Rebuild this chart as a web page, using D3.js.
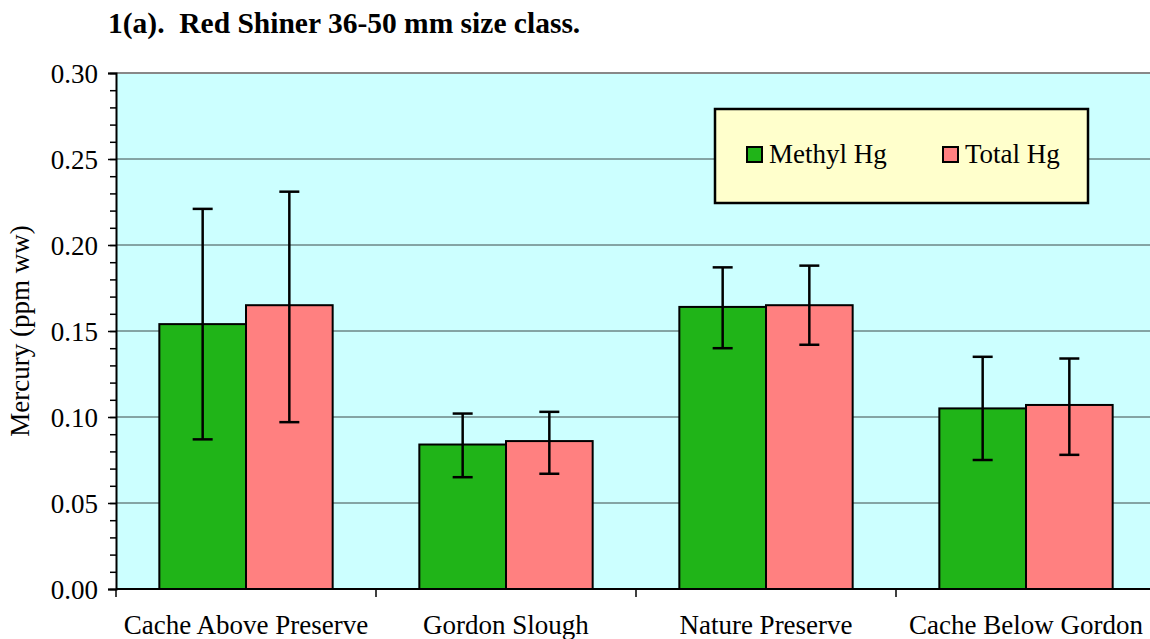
<html>
    <head>
        <meta charset="utf-8">
        <title>Red Shiner 36-50 mm</title>
        <script type="text/javascript" src="https://cdn.jsdelivr.net/npm/d3@7"></script>
        <style>
            body { margin: 0; background: #fff; }
            text { font-family: "Liberation Serif", "Times New Roman", serif; fill: #000; }
        </style>
    </head>
    <body>
        <script type="text/javascript">
            // data
            var sites = ["Cache Above Preserve", "Gordon Slough", "Nature Preserve", "Cache Below Gordon"];
            var series = ["Methyl Hg", "Total Hg"];
            var methylHg = [0.154, 0.084, 0.164, 0.105];
            var methylLow = [0.087, 0.065, 0.140, 0.075];
            var methylHigh = [0.221, 0.102, 0.187, 0.135];
            var totalHg = [0.165, 0.086, 0.165, 0.107];
            var totalLow = [0.097, 0.067, 0.142, 0.078];
            var totalHigh = [0.231, 0.103, 0.188, 0.134];
            var yTicks = [0, 0.05, 0.10, 0.15, 0.20, 0.25, 0.30];

            var colors = { "Methyl Hg": "#20b418", "Total Hg": "#ff8080" };

            var w = 1150, h = 639;
            var mLeft = 116, mRight = 1156, mTop = 73, mBottom = 589;

            var svg = d3.select("body").append("svg")
                        .attr("width", w)
                        .attr("height", h);

            // rows for drawing
            var rows = [];
            sites.forEach(function(s, i) {
                rows.push({ site: s, key: "Methyl Hg", v: methylHg[i], lo: methylLow[i], hi: methylHigh[i] });
                rows.push({ site: s, key: "Total Hg", v: totalHg[i], lo: totalLow[i], hi: totalHigh[i] });
            });

            var x0 = d3.scaleBand().domain(sites).range([mLeft, mRight]).padding(0);
            var x1 = d3.scaleBand().domain(series).range([0, x0.bandwidth()]).paddingInner(0).paddingOuter(0.5);
            var y = d3.scaleLinear().domain([0, 0.30]).range([mBottom, mTop]);

            // plot background
            svg.append("rect")
               .attr("x", mLeft).attr("y", mTop)
               .attr("width", mRight - mLeft).attr("height", mBottom - mTop)
               .attr("fill", "#ccffff");

            // gridlines
            svg.append("g").selectAll("line")
               .data(yTicks.slice(1, -1))
               .enter().append("line")
               .attr("x1", mLeft).attr("x2", mRight)
               .attr("y1", function(d) { return y(d); })
               .attr("y2", function(d) { return y(d); })
               .attr("stroke", "#3c4a4a").attr("stroke-width", 1);

            // top border
            svg.append("line")
               .attr("x1", mLeft).attr("x2", mRight)
               .attr("y1", mTop).attr("y2", mTop)
               .attr("stroke", "#888").attr("stroke-width", 2);

            // bars
            svg.append("g").selectAll("rect")
               .data(rows)
               .enter().append("rect")
               .attr("x", function(d) { return x0(d.site) + x1(d.key); })
               .attr("y", function(d) { return y(d.v); })
               .attr("width", x1.bandwidth())
               .attr("height", function(d) { return y(0) - y(d.v); })
               .attr("fill", function(d) { return colors[d.key]; })
               .attr("stroke", "#000").attr("stroke-width", 2);

            // error bars
            var err = svg.append("g").selectAll("g")
                         .data(rows)
                         .enter().append("g")
                         .attr("transform", function(d) {
                             return "translate(" + (x0(d.site) + x1(d.key) + x1.bandwidth() / 2) + ",0)";
                         })
                         .attr("stroke", "#000").attr("stroke-width", 2.5);
            err.append("line")
               .attr("y1", function(d) { return y(d.lo); })
               .attr("y2", function(d) { return y(d.hi); });
            err.append("line")
               .attr("x1", -10).attr("x2", 10)
               .attr("y1", function(d) { return y(d.hi); })
               .attr("y2", function(d) { return y(d.hi); });
            err.append("line")
               .attr("x1", -10).attr("x2", 10)
               .attr("y1", function(d) { return y(d.lo); })
               .attr("y2", function(d) { return y(d.lo); });

            // y axis with minor ticks
            var yMinor = d3.axisLeft(y).tickValues(d3.range(0, 0.3001, 0.01)).tickSize(6).tickFormat("");
            svg.append("g").attr("transform", "translate(" + mLeft + ",0)").call(yMinor)
               .call(function(g) { g.select(".domain").remove(); })
               .selectAll("line").attr("stroke", "#000").attr("stroke-width", 1.5);

            var yAxis = d3.axisLeft(y).tickValues(yTicks).tickSize(8).tickPadding(10).tickFormat(d3.format(".2f"));
            var ya = svg.append("g").attr("transform", "translate(" + mLeft + ",0)").call(yAxis);
            ya.select(".domain").attr("stroke", "#000").attr("stroke-width", 2);
            ya.selectAll("line").attr("stroke", "#000").attr("stroke-width", 1.5);
            ya.selectAll("text").style("font-size", "27px").style("font-family", "Liberation Serif").attr("dy", "0.35em");

            // x axis
            var xa = svg.append("g").attr("transform", "translate(0," + mBottom + ")");
            xa.append("line")
              .attr("x1", mLeft).attr("x2", mRight)
              .attr("stroke", "#000").attr("stroke-width", 2);
            xa.selectAll(".tk")
              .data(sites)
              .enter().append("line")
              .attr("class", "tk")
              .attr("x1", function(d) { return x0(d); })
              .attr("x2", function(d) { return x0(d); })
              .attr("y1", 0).attr("y2", 8)
              .attr("stroke", "#000").attr("stroke-width", 1.5);
            xa.selectAll("text")
              .data(sites)
              .enter().append("text")
              .attr("x", function(d) { return x0(d) + x0.bandwidth() / 2; })
              .attr("y", 45)
              .attr("text-anchor", "middle")
              .style("font-size", "27px")
              .text(function(d) { return d; });

            // y label
            svg.append("text")
               .attr("transform", "translate(29," + ((mTop + mBottom) / 2) + ") rotate(-90)")
               .attr("text-anchor", "middle")
               .style("font-size", "27px")
               .text("Mercury (ppm ww)");

            // title
            svg.append("text")
               .attr("x", 108).attr("y", 33)
               .style("font-size", "29.5px")
               .style("font-weight", "bold")
               .text("1(a).\u00a0\u00a0Red Shiner 36-50 mm size class.");

            // legend
            var lg = svg.append("g").attr("transform", "translate(715,109)");
            lg.append("rect")
              .attr("width", 373).attr("height", 94)
              .attr("fill", "#ffffcc")
              .attr("stroke", "#000").attr("stroke-width", 2.5);
            var item = lg.selectAll(".it")
                         .data(series)
                         .enter().append("g")
                         .attr("class", "it")
                         .attr("transform", function(d, i) { return "translate(" + (32 + i * 196) + ",38)"; });
            item.append("rect")
                .attr("width", 15).attr("height", 15)
                .attr("fill", function(d) { return colors[d]; })
                .attr("stroke", "#000").attr("stroke-width", 2);
            item.append("text")
                .attr("x", 22).attr("y", 16)
                .style("font-size", "27px")
                .text(function(d) { return d; });
        </script>
    </body>
</html>
